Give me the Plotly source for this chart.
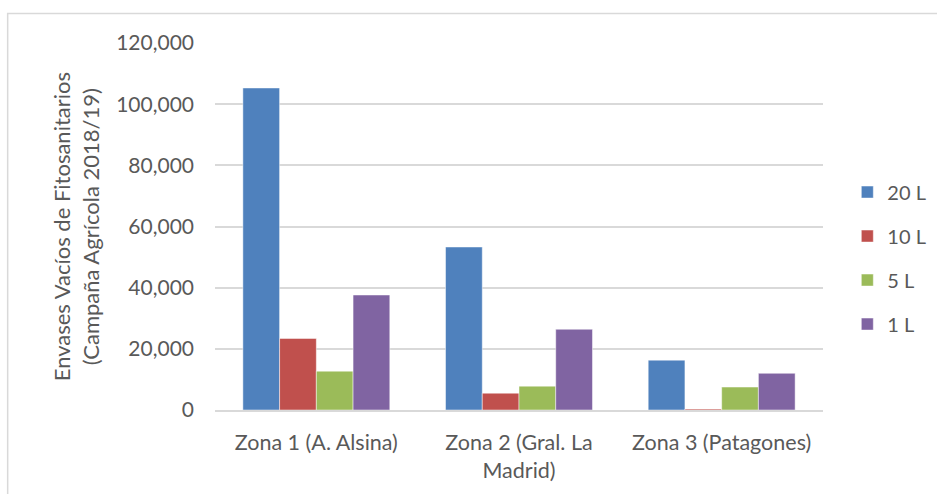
import plotly.graph_objects as go

zonas = ["Zona 1 (A. Alsina)", "Zona 2 (Gral. La<br>Madrid)", "Zona 3 (Patagones)"]
envase_20l = [105300, 53300, 16300]
envase_10l = [23400, 5500, 300]
envase_5l = [12700, 7800, 7500]
envase_1l = [37600, 26400, 12000]
y_ticks = [0, 20000, 40000, 60000, 80000, 100000, 120000]

series = [
    ("20 L", envase_20l, "#4F81BD"),
    ("10 L", envase_10l, "#C0504D"),
    ("5 L", envase_5l, "#9BBB59"),
    ("1 L", envase_1l, "#8064A2"),
]

FONT = "Lato"
TXT = "#595959"

fig = go.Figure()
for i, (name, vals, color) in enumerate(series):
    fig.add_trace(go.Bar(
        name=name, x=zonas, y=vals,
        marker=dict(color=color, line=dict(color="rgba(255,255,255,0.6)", width=0.8)),
        legendgroup=f"g{i}",
    ))

fig.update_layout(
    width=937, height=494,
    margin=dict(l=215, r=114, t=43, b=84, autoexpand=False),
    paper_bgcolor="white", plot_bgcolor="white",
    barmode="group", bargap=0.275, bargroupgap=0,
    font=dict(family=FONT, size=19, color=TXT),
    showlegend=True,
    legend=dict(
        x=1.04, xanchor="left", y=0.414, yanchor="middle",
        font=dict(family=FONT, size=20, color=TXT),
        traceorder="grouped", tracegroupgap=15,
        itemwidth=30,
    ),
    xaxis=dict(
        showgrid=False, showline=True, linecolor="#d9d9d9", linewidth=1.5,
        tickfont=dict(family=FONT, size=21.5, color=TXT), ticks="",
        ticklabelstandoff=12,
    ),
    yaxis=dict(
        range=[0, 120000], tickvals=y_ticks, tickformat=",",
        showgrid=True, gridcolor="#d9d9d9", gridwidth=1.5,
        zeroline=False, showline=False, ticks="",
        ticklabelstandoff=20,
        tickfont=dict(family=FONT, size=21, color=TXT),
    ),
    annotations=[dict(
        text="Envases Vacíos de Fitosanitarios<br>(Campaña Agrícola 2018/19)",
        xref="paper", yref="paper", x=-0.229, y=0.5,
        xanchor="center", yanchor="middle", textangle=-90,
        showarrow=False, font=dict(family=FONT, size=22, color=TXT),
    )],
    shapes=[dict(
        type="rect", xref="paper", yref="paper",
        x0=-0.341, x1=1.3, y0=-0.3, y1=1.0804,
        line=dict(color="#d9d9d9", width=1.5), fillcolor="rgba(0,0,0,0)",
        layer="below",
    )],
)

fig.write_html("out.html")
